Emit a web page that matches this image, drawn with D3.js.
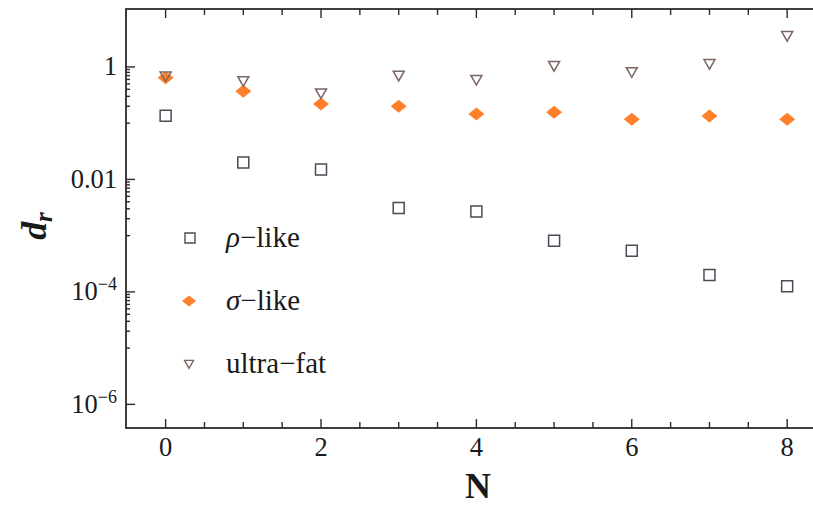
<!DOCTYPE html>
<html>
<head>
<meta charset="utf-8">
<script src="https://cdn.jsdelivr.net/npm/d3@7"></script>
<style>
  body { margin: 0; background: #fff; }
  svg { display: block; }
  text { fill: #1a1a1a; }
</style>
</head>
<body>
<div id="chart"></div>
<script>
// data
const nValues = [0, 1, 2, 3, 4, 5, 6, 7, 8];
const rhoLike = [0.136, 0.020, 0.015, 0.0031, 0.0027, 8.1e-4, 5.4e-4, 2.0e-4, 1.26e-4];
const sigmaLike = [0.64, 0.37, 0.22, 0.20, 0.146, 0.156, 0.117, 0.134, 0.117];
const ultraFat = [0.68, 0.56, 0.34, 0.70, 0.59, 1.04, 0.81, 1.13, 3.56];

const xMajorTicks = [0, 2, 4, 6, 8];
const xMinorTicks = [0.5, 1, 1.5, 2.5, 3, 3.5, 4.5, 5, 5.5, 6.5, 7, 7.5];
const yMajorTicks = [1, 0.01, 1e-4, 1e-6];
const yMajorLabels = [["1", ""], ["0.01", ""], ["10", "\u22124"], ["10", "\u22126"]];
const legendLabels = [["\u03c1", "\u2212like"], ["\u03c3", "\u2212like"], ["", "ultra\u2212fat"]];

const width = 813, height = 505;
const plot = { left: 126, top: 9, bottom: 428, right: 826 };

const svg = d3.select("#chart").append("svg")
  .attr("width", width)
  .attr("height", height)
  .attr("font-family", "'Liberation Serif', 'DejaVu Serif', serif");

const x = d3.scaleLinear().domain([-0.51, 8.5]).range([plot.left, plot.right]);
const y = d3.scaleLog().domain([Math.pow(10, -6.42), Math.pow(10, 1.03)]).range([plot.bottom, plot.top]);

// minor y ticks: 1..9 x 10^(e-1) below each labelled decade
const yMinorTicks = [];
[0, -2, -4].forEach(e => {
  for (let k = 1; k <= 9; k++) yMinorTicks.push(k * Math.pow(10, e - 1));
});

const axisColor = "#2b2b2b";

// frame
svg.append("rect")
  .attr("x", plot.left).attr("y", plot.top)
  .attr("width", plot.right - plot.left).attr("height", plot.bottom - plot.top)
  .attr("fill", "none").attr("stroke", axisColor).attr("stroke-width", 1.8);

const ticks = svg.append("g").attr("stroke", axisColor).attr("stroke-width", 1.4);

// x ticks bottom + top
xMajorTicks.forEach(v => {
  ticks.append("line").attr("x1", x(v)).attr("x2", x(v)).attr("y1", plot.bottom).attr("y2", plot.bottom - 9);
  ticks.append("line").attr("x1", x(v)).attr("x2", x(v)).attr("y1", plot.top).attr("y2", plot.top + 9);
});
xMinorTicks.forEach(v => {
  ticks.append("line").attr("x1", x(v)).attr("x2", x(v)).attr("y1", plot.bottom).attr("y2", plot.bottom - 6);
  ticks.append("line").attr("x1", x(v)).attr("x2", x(v)).attr("y1", plot.top).attr("y2", plot.top + 6);
});

// y ticks
yMajorTicks.forEach(v => {
  ticks.append("line").attr("x1", plot.left).attr("x2", plot.left + 9).attr("y1", y(v)).attr("y2", y(v));
});
yMinorTicks.forEach(v => {
  ticks.append("line").attr("x1", plot.left).attr("x2", plot.left + 4).attr("y1", y(v)).attr("y2", y(v));
});

// x tick labels
svg.append("g").selectAll("text")
  .data(xMajorTicks)
  .join("text")
  .attr("x", d => x(d))
  .attr("y", 456)
  .attr("text-anchor", "middle")
  .attr("font-size", 26.5)
  .text(d => d);

// y tick labels
const yl = svg.append("g").selectAll("text")
  .data(yMajorTicks)
  .join("text")
  .attr("x", 117)
  .attr("y", d => y(d) + 8.5)
  .attr("text-anchor", "end")
  .attr("font-size", 26.5);
yl.append("tspan").text((d, i) => yMajorLabels[i][0]);
yl.append("tspan")
  .attr("font-size", 18)
  .attr("dy", -10)
  .text((d, i) => yMajorLabels[i][1]);

// axis titles
svg.append("text")
  .attr("x", 478).attr("y", 498)
  .attr("text-anchor", "middle")
  .attr("font-size", 36)
  .attr("font-weight", "bold")
  .text("N");

const yTitle = svg.append("text")
  .attr("transform", "translate(46,226) rotate(-90)")
  .attr("text-anchor", "middle")
  .attr("font-size", 36)
  .attr("font-weight", "bold")
  .attr("font-style", "italic");
yTitle.append("tspan").text("d");
yTitle.append("tspan").attr("font-size", 25).attr("dy", 6).text("r");

// marker shapes
const squarePath = s => `M${-s},${-s}H${s}V${s}H${-s}Z`;
const diamondPath = (w, h) => `M0,${-h}L${w},0L0,${h}L${-w},0Z`;
const trianglePath = s => `M${-s},${-s * 0.8}H${s}L0,${s * 0.95}Z`;

const squareColor = "#4b4b58";
const diamondColor = "#ff7f2a";
const triangleColor = "#7a6560";

const marks = svg.append("g");

marks.selectAll(".rho")
  .data(nValues)
  .join("path")
  .attr("class", "rho")
  .attr("transform", (d, i) => `translate(${x(d)},${y(rhoLike[i])})`)
  .attr("d", squarePath(5.5))
  .attr("fill", "none")
  .attr("stroke", squareColor)
  .attr("stroke-width", 1.5);

marks.selectAll(".sigma")
  .data(nValues)
  .join("path")
  .attr("class", "sigma")
  .attr("transform", (d, i) => `translate(${x(d)},${y(sigmaLike[i])})`)
  .attr("d", diamondPath(8, 6.5))
  .attr("fill", diamondColor);

marks.selectAll(".fat")
  .data(nValues)
  .join("path")
  .attr("class", "fat")
  .attr("transform", (d, i) => `translate(${x(d)},${y(ultraFat[i])})`)
  .attr("d", trianglePath(5.5))
  .attr("fill", "none")
  .attr("stroke", triangleColor)
  .attr("stroke-width", 1.5);

// legend
const legendY = [238, 301, 364];
const legend = svg.append("g");
legend.append("path")
  .attr("transform", `translate(190,${legendY[0]})`)
  .attr("d", squarePath(5))
  .attr("fill", "none").attr("stroke", squareColor).attr("stroke-width", 1.4);
legend.append("path")
  .attr("transform", `translate(189,${legendY[1]})`)
  .attr("d", diamondPath(7, 5.5))
  .attr("fill", diamondColor);
legend.append("path")
  .attr("transform", `translate(189,${legendY[2]})`)
  .attr("d", trianglePath(4.5))
  .attr("fill", "none").attr("stroke", triangleColor).attr("stroke-width", 1.4);

const lt = legend.selectAll(".lab")
  .data(legendLabels)
  .join("text")
  .attr("class", "lab")
  .attr("x", 226)
  .attr("y", (d, i) => legendY[i] + 9)
  .attr("font-size", 29);
lt.append("tspan").attr("font-style", "italic").text(d => d[0]);
lt.append("tspan").text(d => d[1]);
</script>
</body>
</html>
